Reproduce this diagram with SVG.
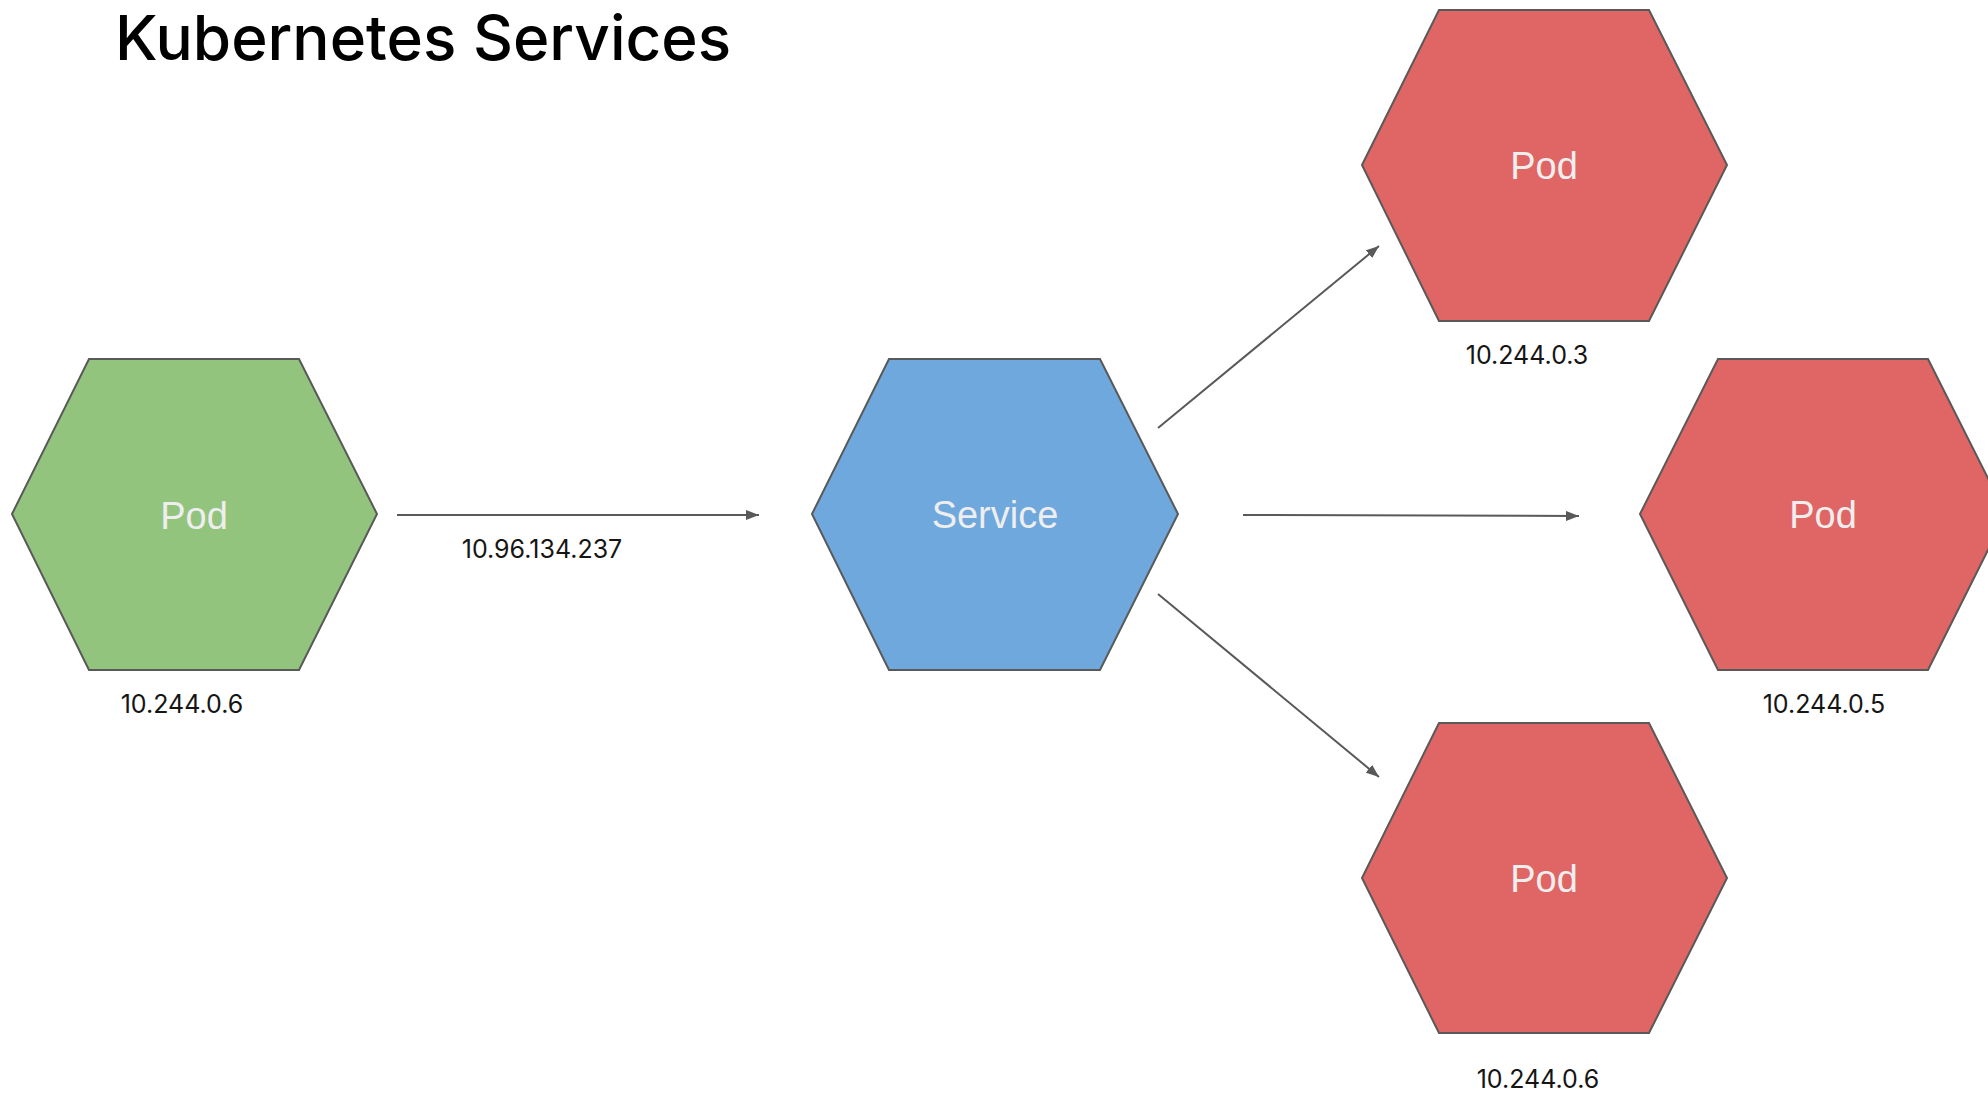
<svg xmlns="http://www.w3.org/2000/svg" width="1988" height="1095" viewBox="0 0 1988 1095">
<style>
.hex{stroke:#595959;stroke-width:2;stroke-linejoin:miter}
.green{fill:#93c47d}.blue{fill:#6fa8dc}.red{fill:#e06666}
.in{font-family:"Liberation Sans",Arial,sans-serif;font-size:38px;fill:#eeeeee;text-anchor:middle}
.ip{font-family:Inter,"Liberation Sans",sans-serif;font-size:25px;fill:#151515;text-anchor:middle}
.title{font-family:Inter,"Liberation Sans",sans-serif;font-size:62px;font-weight:500;fill:#000}
.conn{stroke:#595959;stroke-width:2;fill:none;marker-end:url(#arr)}
</style>
<defs>
<marker id="arr" markerUnits="userSpaceOnUse" markerWidth="14" markerHeight="10" refX="13" refY="5" orient="auto">
<path d="M0,0 L13,5 L0,10 z" fill="#595959"/>
</marker>
</defs>
<rect width="1988" height="1095" fill="#fff"/>
<text class="title" x="115" y="60">Kubernetes Services</text>
<g id="client-pod">
<polygon class="hex green" points="12,514 89,359 299,359 377,514 299,670 89,670"/>
<text class="in" x="194" y="529">Pod</text>
<text class="ip" x="182" y="713">10.244.0.6</text>
</g>
<g id="service">
<polygon class="hex blue" points="812,514 889,359 1100,359 1178,514 1100,670 889,670"/>
<text class="in" x="995" y="528">Service</text>
</g>
<g id="pod-top">
<polygon class="hex red" points="1362,165 1439,10 1649,10 1727,165 1649,321 1439,321"/>
<text class="in" x="1544" y="179">Pod</text>
<text class="ip" x="1527" y="364">10.244.0.3</text>
</g>
<g id="pod-right">
<polygon class="hex red" points="1640,514 1718,359 1928,359 2006,514 1928,670 1718,670"/>
<text class="in" x="1823" y="528">Pod</text>
<text class="ip" x="1824" y="713">10.244.0.5</text>
</g>
<g id="pod-bottom">
<polygon class="hex red" points="1362,878 1439,723 1649,723 1727,878 1649,1033 1439,1033"/>
<text class="in" x="1544" y="892">Pod</text>
<text class="ip" x="1538" y="1088">10.244.0.6</text>
</g>
<g id="connectors">
<line class="conn" x1="397" y1="515" x2="759" y2="515"/>
<text class="ip" x="542" y="558">10.96.134.237</text>
<line class="conn" x1="1158" y1="428" x2="1379" y2="246"/>
<line class="conn" x1="1243" y1="515" x2="1579" y2="516"/>
<line class="conn" x1="1158" y1="594" x2="1379" y2="777"/>
</g>
</svg>
